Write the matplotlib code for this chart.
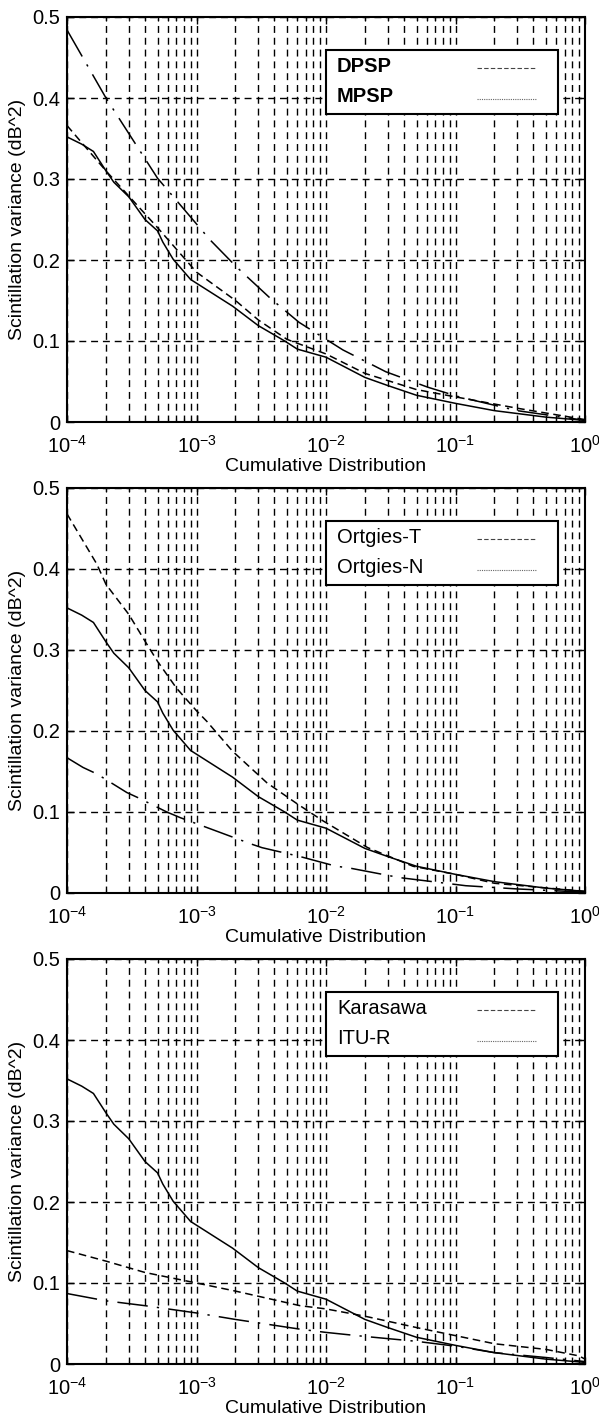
import numpy as np
import matplotlib
matplotlib.use("Agg")
import matplotlib.pyplot as plt
from matplotlib.patches import Rectangle
from matplotlib.lines import Line2D

plt.rcParams['font.family'] = ['Liberation Sans', 'DejaVu Sans']
plt.rcParams['mathtext.fontset'] = 'custom'
plt.rcParams['mathtext.rm'] = 'Liberation Sans'
plt.rcParams['mathtext.it'] = 'Liberation Sans'
plt.rcParams['mathtext.default'] = 'regular'
plt.rcParams['axes.unicode_minus'] = False

# ---- data ----
measured_x = [1e-4, 1.3e-4, 1.6e-4, 2e-4, 2.3e-4, 3e-4, 4e-4, 5e-4, 5.5e-4, 6.6e-4,
              9e-4, 1.9e-3, 3e-3, 4.8e-3, 6e-3, 1e-2, 2e-2, 3e-2, 5e-2, 1e-1,
              2e-1, 5e-1, 1.0]
measured_y = [0.352, 0.343, 0.334, 0.31, 0.296, 0.278, 0.25, 0.236, 0.222, 0.201,
              0.176, 0.143, 0.119, 0.100, 0.090, 0.080, 0.055, 0.045, 0.033, 0.023,
              0.014, 0.006, 0.002]

dpsp_x = [1e-4, 2e-4, 5e-4, 1e-3, 2e-3, 3e-3, 5e-3, 1e-2, 2e-2, 5e-2, 1e-1, 3e-1, 1.0]
dpsp_y = [0.366, 0.31, 0.24, 0.185, 0.15, 0.126, 0.102, 0.084, 0.06, 0.04, 0.031, 0.017, 0.003]

mpsp_x = [1e-4, 2e-4, 5e-4, 1.27e-3, 2.05e-3, 3.7e-3, 6.2e-3, 1.35e-2, 2.9e-2, 6.1e-2, 0.107, 0.3, 1.0]
mpsp_y = [0.484, 0.400, 0.301, 0.225, 0.191, 0.153, 0.123, 0.089, 0.062, 0.043, 0.031, 0.014, 0.002]

ortgies_t_x = [1e-4, 1.7e-4, 2e-4, 3e-4, 4e-4, 5e-4, 7e-4, 1e-3, 1.2e-3, 1.9e-3, 3.5e-3,
               6e-3, 9.5e-3, 2.1e-2, 4.7e-2, 0.1, 0.2, 1.0]
ortgies_t_y = [0.468, 0.406, 0.381, 0.344, 0.311, 0.286, 0.253, 0.225, 0.212, 0.175, 0.136,
               0.11, 0.089, 0.056, 0.033, 0.023, 0.012, 0.002]

ortgies_n_x = [1e-4, 1.33e-4, 1.7e-4, 2.9e-4, 3.5e-4, 5.9e-4, 7.5e-4, 2.7e-3, 3.2e-3, 6.3e-3,
               1.2e-2, 1.5e-2, 3.7e-2, 0.12, 0.3, 1.0]
ortgies_n_y = [0.167, 0.155, 0.147, 0.124, 0.118, 0.100, 0.093, 0.060, 0.056, 0.045,
               0.033, 0.031, 0.019, 0.009, 0.005, 0.001]

karasawa_x = [1e-4, 2e-4, 4e-4, 1e-3, 2e-3, 6.3e-3, 1e-2, 2e-2, 5e-2, 0.1, 0.2, 0.5, 0.9, 1.0]
karasawa_y = [0.14, 0.127, 0.113, 0.1, 0.09, 0.072, 0.068, 0.059, 0.045, 0.035, 0.025, 0.018, 0.01, 0.006]

itur_x = [1e-4, 2e-4, 4e-4, 1e-3, 2e-3, 6.3e-3, 1e-2, 2e-2, 5e-2, 0.1, 0.2, 0.5, 1.0]
itur_y = [0.087, 0.078, 0.072, 0.063, 0.055, 0.043, 0.039, 0.034, 0.028, 0.022, 0.014, 0.008, 0.003]

legend_names = [("DPSP", "MPSP"), ("Ortgies-T", "Ortgies-N"), ("Karasawa", "ITU-R")]
legend_bold = [True, False, False]
model_a = [(dpsp_x, dpsp_y), (ortgies_t_x, ortgies_t_y), (karasawa_x, karasawa_y)]
model_b = [(mpsp_x, mpsp_y), (ortgies_n_x, ortgies_n_y), (itur_x, itur_y)]

xlabel = "Cumulative Distribution"
ylabel = "Scintillation variance (dB^2)"
yticks = [0, 0.1, 0.2, 0.3, 0.4, 0.5]
ytick_labels = ["0", "0.1", "0.2", "0.3", "0.4", "0.5"]
xticks = [1e-4, 1e-3, 1e-2, 1e-1, 1e0]
xtick_labels = [r"$10^{-4}$", r"$10^{-3}$", r"$10^{-2}$", r"$10^{-1}$", r"$10^{0}$"]

# ---- figure ----
W, H = 599, 1422
fig = plt.figure(figsize=(W / 100, H / 100), dpi=100)
left = 67 / W
width = 518 / W
tops = [17, 488, 959]
ax_h = 405

grid_ls = (0, (5.0, 3.5))
short_dash = (0, (5.0, 3.0))
dash_dot = (0, (20.0, 6.0, 1.5, 6.0))

for i in range(3):
    bottom = 1 - (tops[i] + ax_h) / H
    ax = fig.add_axes([left, bottom, width, ax_h / H])
    ax.set_xscale('log')
    ax.set_xlim(1e-4, 1)
    ax.set_ylim(0, 0.5)
    ax.set_yticks(yticks)
    ax.set_yticklabels(ytick_labels)
    ax.set_xticks(xticks)
    ax.set_xticklabels(xtick_labels)
    ax.xaxis.set_minor_locator(matplotlib.ticker.LogLocator(base=10, subs=np.arange(2, 10)))
    ax.xaxis.set_minor_formatter(matplotlib.ticker.NullFormatter())
    ax.tick_params(axis='both', which='major', direction='in', length=5, width=1.0,
                   labelsize=14.5, top=True, right=True, pad=5)
    ax.tick_params(axis='x', which='major', pad=9)
    ax.tick_params(axis='x', which='minor', direction='in', length=3, width=0.8, top=True)
    ax.grid(True, which='major', axis='both', color='black', linestyle=grid_ls, linewidth=1.0)
    ax.grid(True, which='minor', axis='x', color='black', linestyle=grid_ls, linewidth=1.0)
    for sp in ax.spines.values():
        sp.set_linewidth(1.5)
    ax.set_xlabel(xlabel, fontsize=14, labelpad=1)
    ax.set_ylabel(ylabel, fontsize=14, labelpad=4)

    ax.plot(measured_x, measured_y, color='black', linewidth=1.1, linestyle='-')
    ax.plot(model_a[i][0], model_a[i][1], color='black', linewidth=1.1, linestyle=short_dash)
    ax.plot(model_b[i][0], model_b[i][1], color='black', linewidth=1.1, linestyle=dash_dot)

    # legend box (MATLAB style: text then line sample)
    lx0, lx1, ly0, ly1 = 0.5, 0.948, 0.76, 0.918
    ax.add_patch(Rectangle((lx0, ly0), lx1 - lx0, ly1 - ly0, transform=ax.transAxes,
                           facecolor='white', edgecolor='black', linewidth=1.5, zorder=5))
    weight = 'bold' if legend_bold[i] else 'normal'
    ax.text(0.521, 0.879, legend_names[i][0], transform=ax.transAxes, fontsize=14.5,
            fontweight=weight, va='center', ha='left', zorder=6)
    ax.text(0.521, 0.803, legend_names[i][1], transform=ax.transAxes, fontsize=14.5,
            fontweight=weight, va='center', ha='left', zorder=6)
    ax.add_line(Line2D([0.792, 0.907], [0.874, 0.874], transform=ax.transAxes,
                       color='#444444', linewidth=0.8, linestyle=(0, (4, 2)), zorder=6))
    ax.add_line(Line2D([0.792, 0.907], [0.798, 0.798], transform=ax.transAxes,
                       color='#666666', linewidth=0.8, linestyle=(0, (1, 1)), zorder=6))

fig.savefig("out.png", dpi=100)
